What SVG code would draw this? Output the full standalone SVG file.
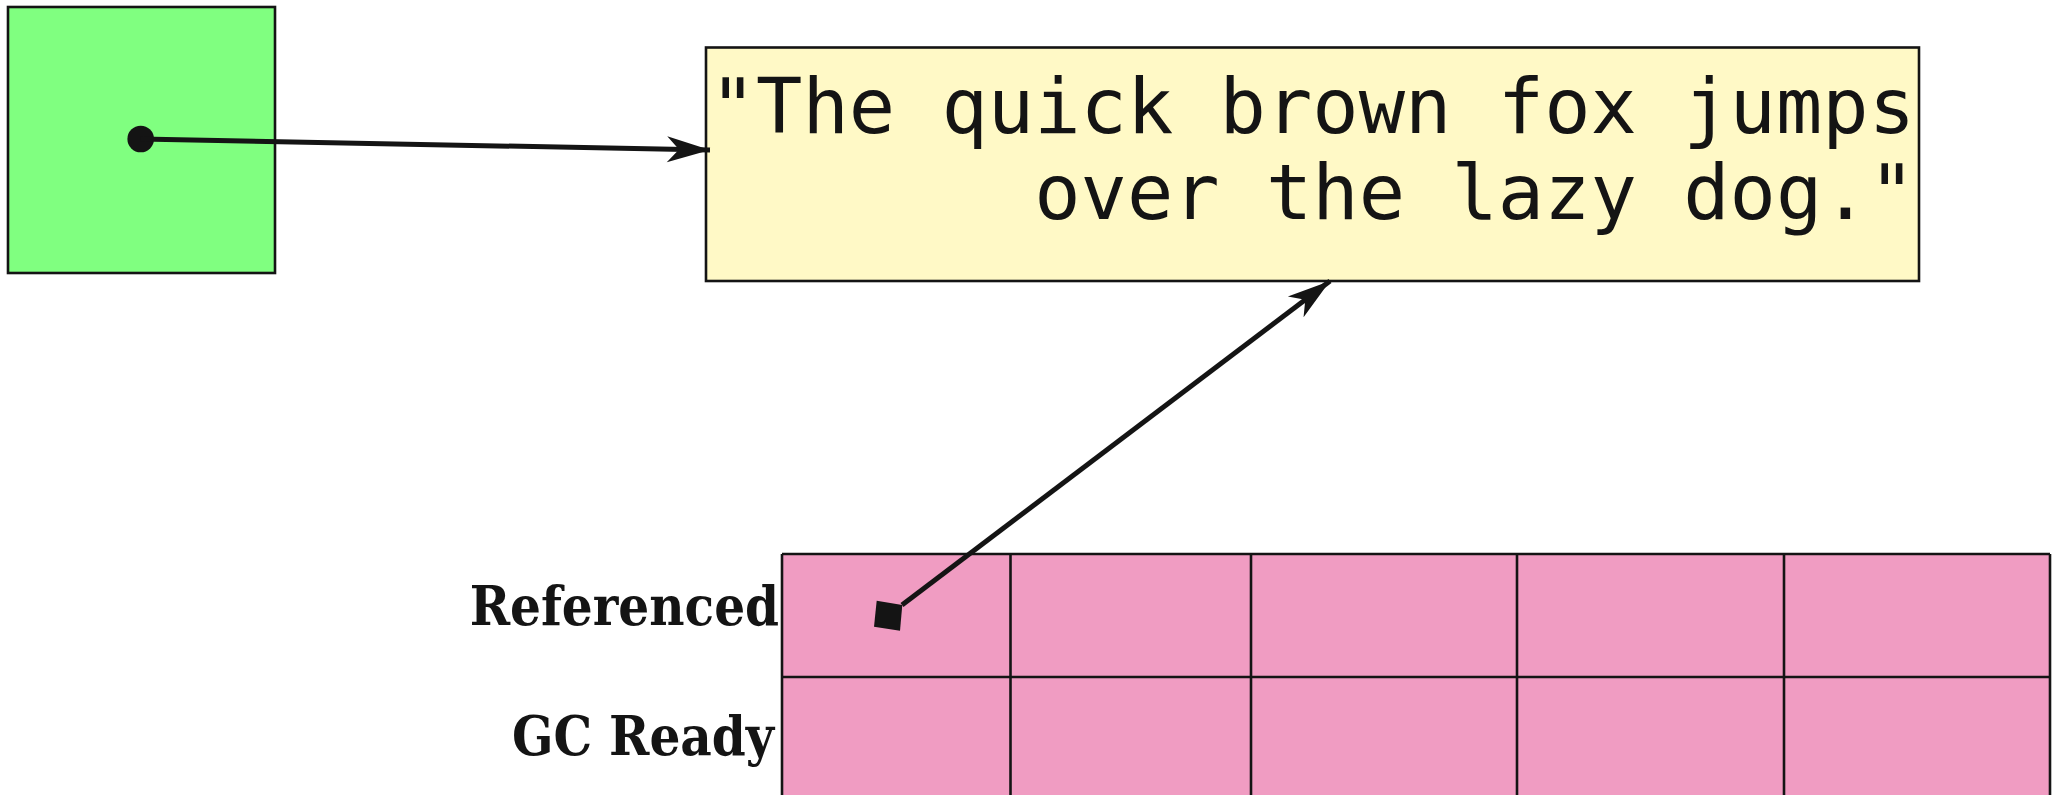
<svg xmlns="http://www.w3.org/2000/svg" width="2058" height="795" viewBox="0 0 2058 795">
<style>
.box{stroke:#141414;stroke-width:2.6}
.mono{font-family:"DejaVu Sans Mono","Liberation Mono",monospace;font-size:77px;fill:#141414}
.lbl{font-family:"DejaVu Serif Condensed","DejaVu Serif","Liberation Serif",serif;font-weight:bold;font-stretch:condensed;font-size:54px;fill:#141414}
.conn{stroke:#141414;stroke-width:5;fill:none}
.grid{stroke:#141414;stroke-width:2.6}
</style>
<defs>
<marker id="dart" markerUnits="userSpaceOnUse" viewBox="-44 -14 46 28" refX="0" refY="0" markerWidth="46" markerHeight="28" orient="auto">
<path d="M0,0 L-43,-13 L-31,0 L-43,13 Z" fill="#141414"/>
</marker>
</defs>
<rect width="2058" height="795" fill="#ffffff"/>
<g id="pointer">
<rect class="box" x="8" y="7" width="267" height="266" fill="#80ff80"/>
</g>
<g id="string">
<rect class="box" x="706" y="47.5" width="1213" height="233.5" fill="#fff9c6"/>
<text class="mono" text-anchor="end"><tspan x="1915" y="133">"The quick brown fox jumps</tspan><tspan x="1915" y="219">over the lazy dog."</tspan></text>
</g>
<g id="table">
<rect x="782" y="554" width="1268" height="260" fill="#f09cc2"/>
<g class="grid">
<line x1="782" y1="554" x2="2050" y2="554"/>
<line x1="782" y1="677" x2="2050" y2="677"/>
<line x1="782" y1="554" x2="782" y2="800"/>
<line x1="1010.5" y1="554" x2="1010.5" y2="800"/>
<line x1="1251" y1="554" x2="1251" y2="800"/>
<line x1="1517" y1="554" x2="1517" y2="800"/>
<line x1="1784" y1="554" x2="1784" y2="800"/>
<line x1="2050" y1="554" x2="2050" y2="800"/>
</g>
<text class="lbl" x="779" y="625" text-anchor="end">Referenced</text>
<text class="lbl" x="774" y="755" text-anchor="end">GC Ready</text>
</g>
<g id="connectors">
<circle cx="140.7" cy="139" r="13.3" fill="#141414"/>
<path class="conn" d="M140.7,139 L710,150" marker-end="url(#dart)"/>
<polygon points="876.7,600.7 902.3,605 900,630.7 874,626.7" fill="#141414"/>
<path class="conn" d="M902,605 L1330,281" marker-end="url(#dart)"/>
</g>
</svg>
